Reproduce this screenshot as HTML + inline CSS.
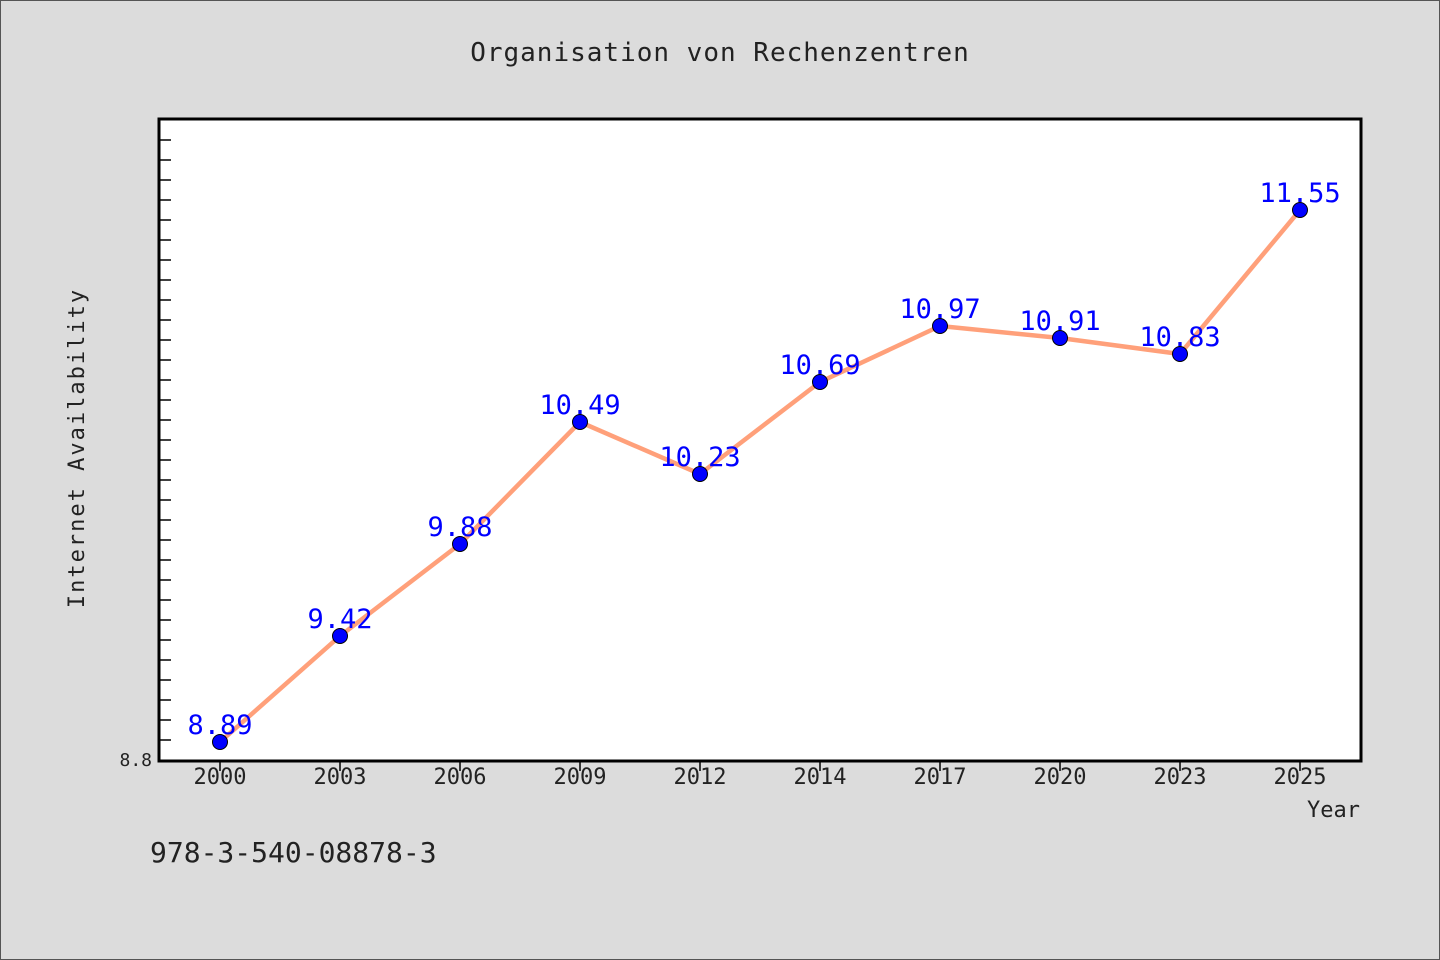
<!DOCTYPE html>
<html><head><meta charset="utf-8">
<style>
html,body{margin:0;padding:0;background:#dcdcdc;}
svg{display:block;font-family:"WenQuanYi Zen Hei","DejaVu Sans Mono",sans-serif;}
</style></head>
<body>
<svg id="chart" width="1440" height="960" viewBox="0 0 1440 960" xmlns="http://www.w3.org/2000/svg">
<rect x="0.5" y="0.5" width="1439" height="959" fill="#dcdcdc" stroke="#555" stroke-width="1"/>
<text x="720" y="61" text-anchor="middle" font-size="26" fill="#222" letter-spacing="1">Organisation von Rechenzentren</text>
<rect x="159" y="119" width="1202" height="642" fill="#fff" stroke="#000" stroke-width="3"/>
<g id="yticks"></g>
<g id="xticks"></g>
<g id="series"></g>
<text transform="translate(84,448) rotate(-90)" text-anchor="middle" font-size="22" fill="#222" letter-spacing="2">Internet Availability</text>
<text x="1360" y="817" text-anchor="end" font-size="22" fill="#222">Year</text>
<text x="150" y="862" font-size="28" fill="#222">978-3-540-08878-3</text>
</svg>
<script>
const categories=["2000","2003","2006","2009","2012","2014","2017","2020","2023","2025"];
const values=[8.89,9.42,9.88,10.49,10.23,10.69,10.97,10.91,10.83,11.55];
const yTickLabels=["8.8"];
const yMin=8.8,yMax=12.0;
const NS="http://www.w3.org/2000/svg";
const L=159,R=1361,T=119,B=761;
function xs(i){return 220+i*(1300-220)/(categories.length-1);}
function ys(v){return 760-(v-yMin)*(760-120)/(yMax-yMin);}
function mk(tag,attrs,parent){const e=document.createElementNS(NS,tag);for(const k in attrs)e.setAttribute(k,attrs[k]);parent.appendChild(e);return e;}
const yt=document.getElementById('yticks');
for(let k=1;k<32;k++){const v=yMin+k*0.1;const y=ys(v);
 const t=mk('line',{x1:L,x2:L+12,y1:y,y2:y,stroke:'#000','stroke-width':1.5},yt);
 }
yTickLabels.forEach(s=>{const t=mk('text',{x:152,y:ys(parseFloat(s))+6,'text-anchor':'end','font-size':18,fill:'#222'},yt);t.textContent=s;
 });
const xt=document.getElementById('xticks');
categories.forEach((c,i)=>{const x=xs(i);
 const l=mk('line',{x1:x,x2:x,y1:B,y2:B+10,stroke:'#000','stroke-width':1.5},xt);
 
 const t=mk('text',{x:x,y:784,'text-anchor':'middle','font-size':22,fill:'#222'},xt);t.textContent=c;
 });
const g=document.getElementById('series');
const pl=mk('polyline',{points:values.map((v,i)=>xs(i)+','+ys(v)).join(' '),fill:'none',stroke:'#ffa07a','stroke-width':4.5,'stroke-linejoin':'round'},g);

values.forEach((v,i)=>{const t=mk('text',{x:xs(i),y:ys(v)-8,'text-anchor':'middle','font-size':27,fill:'#0000ff'},g);t.textContent=v.toFixed(2);
 });
values.forEach((v,i)=>{const c=mk('circle',{cx:xs(i),cy:ys(v),r:7.5,fill:'#0000ff',stroke:'#000','stroke-width':1},g);
 });
</script>
</body></html>
